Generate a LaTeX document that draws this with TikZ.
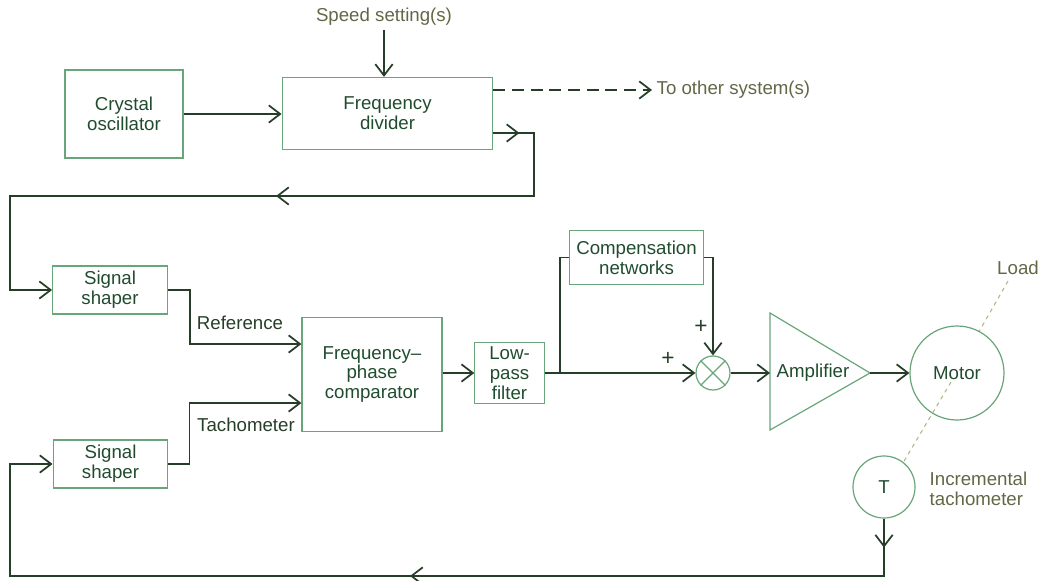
\documentclass[tikz,border=0pt]{standalone}
\usepackage{fontspec}
\setmainfont{Liberation Sans}
\usepackage{xcolor}
\usetikzlibrary{arrows.meta,positioning,shapes.geometric}
\definecolor{linegreen}{RGB}{38,62,40}
\definecolor{boxgreen}{RGB}{105,165,122}
\definecolor{txtgreen}{RGB}{32,76,46}
\definecolor{lblolive}{RGB}{98,104,70}
\definecolor{shaftgreen}{RGB}{172,184,134}

\begin{document}
\begin{tikzpicture}[
    x=0.75pt, y=-0.75pt,
    every node/.style={font=\fontsize{14}{14.8}\selectfont, text=txtgreen},
    box/.style={draw=boxgreen, line width=0.9pt, align=center, inner sep=0pt},
    ring/.style={draw=boxgreen, line width=0.9pt, circle, inner sep=0pt},
    lbl/.style={text=lblolive},
    sign/.style={text=linegreen, font=\fontsize{17}{17}\selectfont},
    wire/.style={draw=linegreen, line width=1.3pt},
    arr/.style={wire, -{Straight Barb[length=8.5pt,width=13pt,line width=1.3pt]}}
]
\useasboundingbox (0,0) rectangle (1039,581);

\node[box, minimum width=88.5pt, minimum height=66pt] (osc) at (124,114) {Crystal\\oscillator};
\node[box, minimum width=158pt, minimum height=54pt] (div) at (387.5,113.5) {Frequency\\divider};
\node[lbl] (spd) at (384,17) {Speed setting(s)};
\node[lbl, anchor=west] (other) at (652,90) {To other system(s)};

\node[box, minimum width=86pt, minimum height=36pt] (shp1) at (110,290) {Signal\\shaper};
\node[box, minimum width=86pt, minimum height=36pt] (shp2) at (110.5,464) {Signal\\shaper};
\node[box, minimum width=105pt, minimum height=86pt] (cmp) at (372,374.5) {Frequency--\\phase\\comparator};
\node[box, minimum width=52pt, minimum height=46pt] (lpf) at (509.5,373) {Low-\\pass\\filter};
\node[box, minimum width=100pt, minimum height=41pt] (comp) at (636.5,257.5) {Compensation\\networks};
\node[ring, minimum size=25.5pt] (sum) at (713,373) {};
\draw[boxgreen, line width=0.9pt] (sum.45) -- (sum.225) (sum.135) -- (sum.315);

\coordinate (ampin) at (770,373);
\coordinate (ampout) at (870,373);
\draw[boxgreen, line width=0.9pt] (770,313) -- (ampout) -- (770,430) -- cycle;
\node (amp) at (813,373) {Amplifier};
\node[ring, minimum size=70.5pt] (mot) at (957,373) {Motor};
\node[ring, minimum size=46.5pt] (tac) at (884,487) {T};
\node[lbl, anchor=west, align=left] (inc) at (925,489) {Incremental\\tachometer};
\node[lbl] (load) at (1018,268) {Load};

\node[text=linegreen] (refl) at (240,323) {Reference};
\node[text=linegreen] (tachl) at (246,425) {Tachometer};
\node[sign] (plus1) at (668,359) {+};
\node[sign] (plus2) at (701,327) {+};

\coordinate (fbA) at (534,133);
\coordinate (fbB) at (534,196);
\coordinate (fbD) at (10,290);
\coordinate (fbE) at (884,576);
\coordinate (fbF) at (10,576);
\coordinate (jn) at (560,373);

\draw[arr] (osc.east) -- (osc.east -| div.west);
\draw[arr] (spd.south) -- (spd.south |- div.north);
\draw[arr, dash pattern=on 9pt off 5pt] (div.east |- other) -- (other.west);
\draw[arr] (div.east |- fbA) -| (fbB) -| (fbD) -- (shp1.west);
\draw[arr] (div.east |- fbA) -- ++(26,0);
\draw[arr] (fbB) -- ++(-258,0);

\draw[arr] (shp1.east) -- ++(22,0) |- (cmp.west |- 0,344);
\draw[arr] (shp2.east) -- ++(21,0) |- (cmp.west |- 0,403);
\draw[arr] (cmp.east |- lpf.west) -- (lpf.west);
\draw[arr] (lpf.east) -- (sum.west);
\draw[wire] (jn) |- (comp.west);
\draw[arr] (comp.east) -| (sum.north);
\draw[arr] (sum.east) -- (ampin);
\draw[arr] (ampout) -- (mot.west);

\draw[arr] (tac.south) -- (fbE) -- (fbF) |- (shp2.west);
\draw[arr] (tac.south) -- ++(0,29);
\draw[arr] (fbE) -- ++(-474,0);

\draw[shaftgreen, line width=0.8pt, dashed] (1008,281) -- (mot.62);
\draw[shaftgreen, line width=0.8pt, dashed] (951,382) -- (tac.52);
\end{tikzpicture}
\end{document}
